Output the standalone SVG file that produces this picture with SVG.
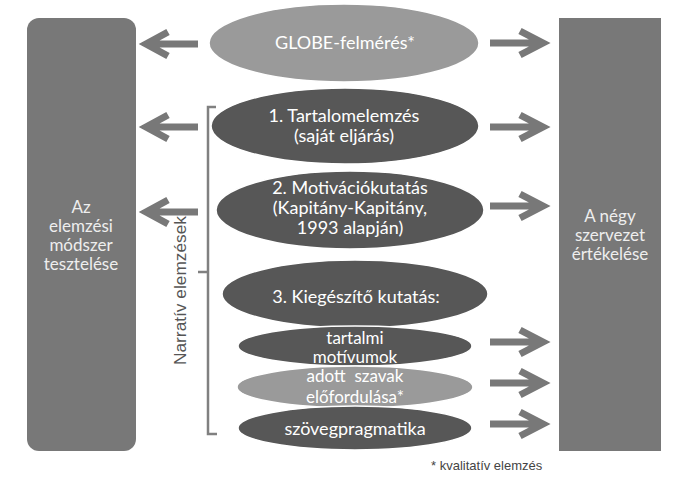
<svg xmlns="http://www.w3.org/2000/svg" width="687" height="478" viewBox="0 0 687 478">
<style>
.box{fill:#787878}
.dark{fill:#575757;stroke:#fff;stroke-width:1.5}
.light{fill:#9a9a9a;stroke:#fff;stroke-width:1.5}
.t{font-family:Lato,"Open Sans",sans-serif;font-size:18px;fill:#fff;text-anchor:middle}
.s{font-size:17px}
.bt{font-family:Lato,"Open Sans",sans-serif;font-size:17px;fill:#eee;text-anchor:middle}
.arr{fill:none;stroke:#787878;stroke-width:7;stroke-linejoin:miter}
.br{fill:none;stroke:#808080;stroke-width:2.5}
</style>
<rect width="687" height="478" fill="#fff"/>
<g id="left-box"><rect class="box" x="27" y="18" width="109" height="433" rx="12"/>
<text class="bt" x="81" y="213">Az</text><text class="bt" x="81" y="232">elemzési</text><text class="bt" x="81" y="251">módszer</text><text class="bt" x="81" y="270">tesztelése</text></g>
<g id="right-box"><rect class="box" x="559" y="18" width="102" height="433"/>
<text class="bt" x="610" y="222">A négy</text><text class="bt" x="610" y="241">szervezet</text><text class="bt" x="610" y="260">értékelése</text></g>
<g id="globe"><ellipse class="light" cx="344" cy="43" rx="135" ry="39"/><text class="t" x="345" y="49">GLOBE-felmérés*</text></g>
<g id="tartalom"><ellipse class="dark" cx="345" cy="126" rx="134" ry="38"/><text class="t" x="344" y="122">1. Tartalomelemzés</text><text class="t" x="344" y="142">(saját eljárás)</text></g>
<g id="motivacio"><ellipse class="dark" cx="350" cy="210" rx="134" ry="39"/><text class="t" x="350" y="194">2. Motivációkutatás</text><text class="t" x="350" y="214">(Kapitány-Kapitány,</text><text class="t" x="350" y="234">1993 alapján)</text></g>
<g id="kiegeszito"><ellipse class="dark" cx="355" cy="294" rx="133" ry="34"/><text class="t" x="356" y="303">3. Kiegészítő kutatás:</text></g>
<g id="tartalmi"><ellipse class="dark" cx="355" cy="346" rx="117" ry="20"/><text class="t s" x="355" y="344">tartalmi</text><text class="t s" x="355" y="363">motívumok</text></g>
<g id="adott"><ellipse class="light" cx="355" cy="387" rx="118" ry="21"/><text class="t s" x="355" y="382" xml:space="preserve">adott  szavak</text><text class="t s" x="355" y="403">előfordulása*</text></g>
<g id="szovegpragmatika"><ellipse class="dark" cx="355" cy="428" rx="117" ry="22"/><text class="t" x="355" y="435">szövegpragmatika</text></g>
<g id="bracket"><path class="br" d="M216 107 H208 V434 H217 M208 272 H198"/>
<text x="186" y="365" transform="rotate(-90 186 365)" font-family="'Liberation Sans',Arial,sans-serif" font-size="16" fill="#555" textLength="149" lengthAdjust="spacingAndGlyphs">Narratív elemzések</text></g>
<g id="connectors">
<path class="arr" d="M198 44 H147 M168 32 L146 44 L168 56"/>
<path class="arr" d="M198 127 H147 M168 115 L146 127 L168 139"/>
<path class="arr" d="M198 212 H147 M168 200 L146 212 L168 224"/>
<path class="arr" d="M490 43 H542 M520 31 L543 43 L520 55"/>
<path class="arr" d="M490 127 H542 M520 115 L543 127 L520 139"/>
<path class="arr" d="M490 206 H542 M520 194 L543 206 L520 218"/>
<path class="arr" d="M490 342 H542 M520 330 L543 342 L520 354"/>
<path class="arr" d="M490 383 H542 M520 371 L543 383 L520 395"/>
<path class="arr" d="M490 424 H542 M520 412 L543 424 L520 436"/>
</g>
<text x="431" y="470" font-family="'Liberation Sans',Arial,sans-serif" font-size="13" fill="#444">* kvalitatív elemzés</text>
</svg>
